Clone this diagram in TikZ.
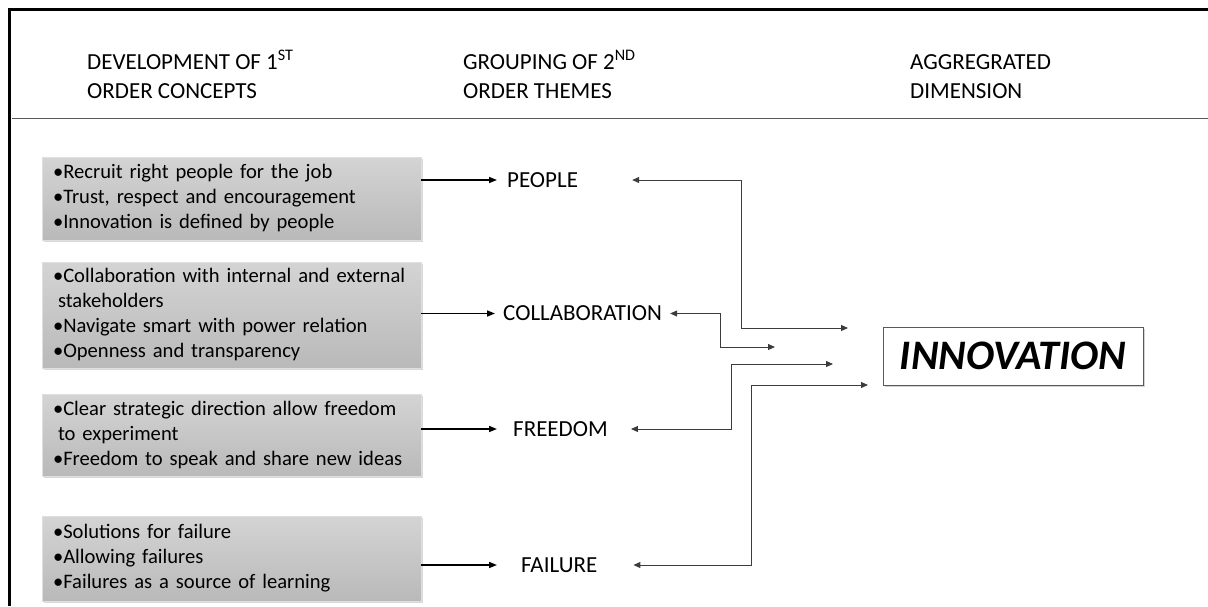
\documentclass[tikz,border=0pt]{standalone}
\usepackage{fontspec}
\setmainfont{Carlito}
\usepackage{tikz}
\usetikzlibrary{positioning,arrows.meta,shadows,calc}
\definecolor{ink}{HTML}{000000}
\definecolor{rule}{HTML}{595959}
\definecolor{linkgray}{HTML}{3C3C3C}
\definecolor{boxtop}{HTML}{D4D4D4}
\definecolor{boxbot}{HTML}{B9B9B9}
\tikzset{
  header/.style={anchor=north west, align=left, inner sep=0pt,
                 font=\fontsize{23}{29}\selectfont},
  concept/.style={rectangle, text width=357pt, inner xsep=11pt, align=left,
                  top color=boxtop, bottom color=boxbot, draw=gray!25,
                  drop shadow={shadow xshift=2pt, shadow yshift=-2pt, opacity=0.3},
                  font=\fontsize{20.6}{25}\selectfont},
  theme/.style={anchor=west, inner sep=0pt, font=\fontsize{23}{28}\selectfont},
  dimension/.style={rectangle, draw=gray!70!black, line width=1pt, fill=white,
                    minimum width=260pt, minimum height=58pt,
                    drop shadow={shadow xshift=2pt, shadow yshift=-2pt, opacity=0.35},
                    font=\fontsize{42}{50}\selectfont\bfseries\itshape},
  flow/.style={-{Triangle[length=8pt,width=6pt]}, line width=1.5pt, draw=ink},
  link/.style={{Triangle[length=7pt,width=6pt]}-{Triangle[length=7pt,width=6pt]},
               line width=1pt, draw=linkgray}
}

\begin{document}
\begin{tikzpicture}[x=1pt,y=-1pt]
  \useasboundingbox (0,0) rectangle (1208,606);
  % frame and header rule
  \draw[line width=3pt] (9,606) -- (9,9) -- (1208,9);
  \draw[rule,line width=1pt] (12,118) -- (1208,118);

  \node[header] (colone) at (87,49) {\strut DEVELOPMENT OF 1\textsuperscript{ST}\\ORDER CONCEPTS};
  \node[header] (coltwo) at (463,49) {\strut GROUPING OF 2\textsuperscript{ND}\\ORDER THEMES};
  \node[header] (colthree) at (910,49) {\strut AGGREGRATED\\DIMENSION};

  % 1st order concepts
  \node[concept, minimum height=83pt] (cpeople) at (231.5,198.5)
    {•Recruit right people for the job\\
     •Trust, respect and encouragement\\
     •Innovation is defined by people};
  \node[concept, minimum height=106pt] (ccollab) at (231.5,315)
    {•Collaboration with internal and external\\
     \hspace*{5pt}stakeholders\\
     •Navigate smart with power relation\\
     •Openness and transparency};
  \node[concept, minimum height=82pt] (cfreedom) at (231.5,435)
    {•Clear strategic direction allow freedom\\
     \hspace*{5pt}to experiment\\
     •Freedom to speak and share new ideas};
  \node[concept, minimum height=85pt] (cfailure) at (231.5,558.5)
    {•Solutions for failure\\
     •Allowing failures\\
     •Failures as a source of learning};

  % 2nd order themes
  \node[theme] (people) at (507,180) {PEOPLE};
  \node[theme] (collab) at (503,313.5) {COLLABORATION};
  \node[theme] (freedom) at (513,429) {FREEDOM};
  \node[theme] (failure) at (521,565) {FAILURE};

  \draw[flow] (cpeople.east |- people.west) -- ([xshift=-10pt]people.west);
  \draw[flow] (ccollab.east |- collab.west) -- ([xshift=-8pt]collab.west);
  \draw[flow] (cfreedom.east |- freedom.west) -- ([xshift=-16pt]freedom.west);
  \draw[flow] (cfailure.east |- failure.west) -- ([xshift=-24pt]failure.west);

  % aggregated dimension
  \node[dimension] (innov) at (1013,356) {INNOVATION};
  \coordinate (inP) at (848,328);
  \coordinate (inC) at (775,347);
  \coordinate (inF) at (833,364);
  \coordinate (inL) at (868,385);

  \draw[link] ([xshift=54pt]people.east) -- ++(109,0) |- (inP);
  \draw[link] ([xshift=8pt]collab.east) -- ++(50,0) |- (inC);
  \draw[link] ([xshift=23pt]freedom.east) -- ++(101,0) |- (inF);
  \draw[link] ([xshift=36pt]failure.east) -- ++(118,0) |- (inL);
\end{tikzpicture}
\end{document}
